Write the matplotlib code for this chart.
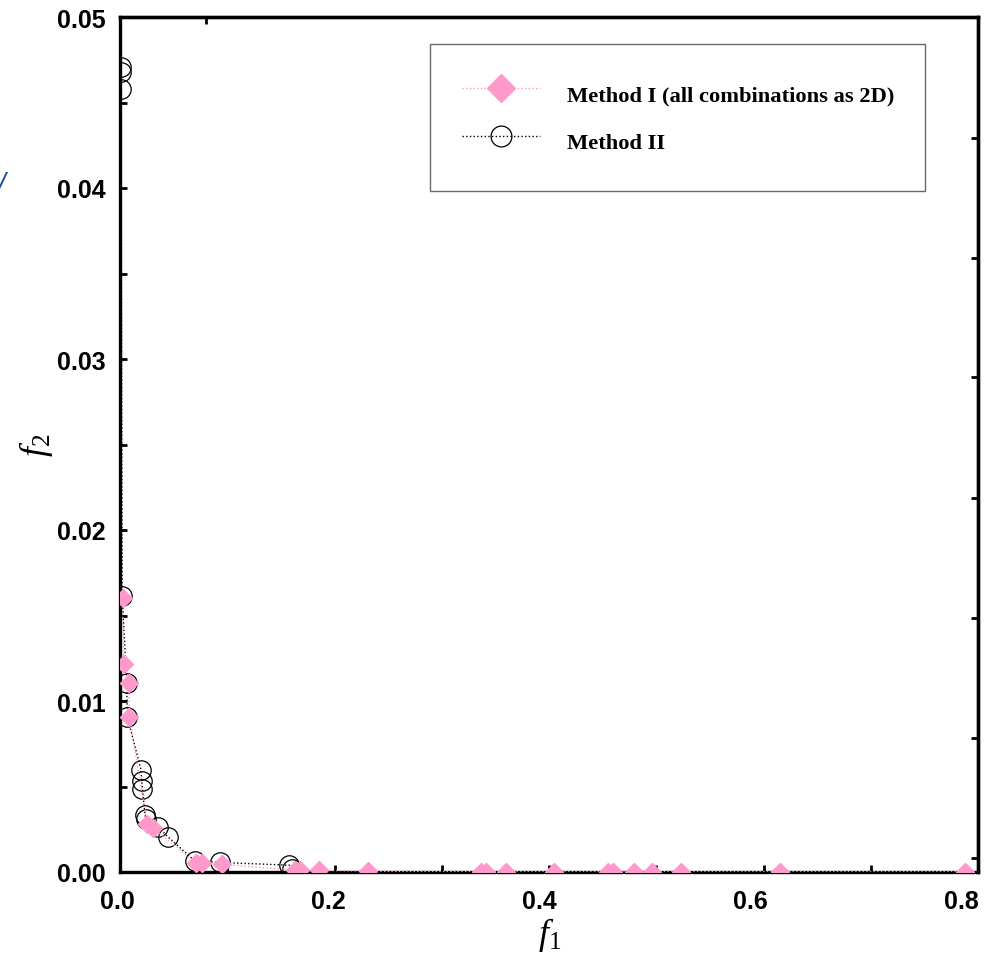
import matplotlib
matplotlib.use("Agg")
import matplotlib.pyplot as plt
from matplotlib.lines import Line2D
from matplotlib.ticker import MultipleLocator
import matplotlib.transforms as mtransforms

# Method I (all combinations as 2D)
m1_f1 = [0.0025, 0.0034, 0.0084, 0.0087, 0.0255, 0.0311, 0.0710, 0.0763, 0.0950,
         0.1636, 0.1682, 0.186, 0.231, 0.3364, 0.341, 0.360, 0.4044, 0.4548,
         0.4601, 0.4788, 0.4963, 0.5234, 0.6153, 0.7882]
m1_f2 = [0.0160, 0.01216, 0.01103, 0.00908, 0.00281, 0.00255, 0.00053, 0.00053, 0.00045,
         0.00010, 0.00010, 0.00010, 0.00005, 0.00001, 0.00001, 0.00001, 0.00001, 0.00001,
         0.00001, 0.00001, 0.00001, 0.00001, 0.00001, 0.00001]

# Method II
m2_f1 = [0.001, 0.001, 0.001, 0.002, 0.0063, 0.0068, 0.0196, 0.0202, 0.0209, 0.0234,
         0.0243, 0.0358, 0.0446, 0.0695, 0.0928, 0.158, 0.160]
m2_f2 = [0.0471, 0.0468, 0.0458, 0.01616, 0.01103, 0.00908, 0.00598, 0.00534, 0.00485,
         0.00333, 0.00310, 0.00261, 0.00206, 0.00066, 0.00056, 0.00040, 0.00020]

x_ticks = [0.0, 0.2, 0.4, 0.6, 0.8]
x_ticklabels = ["0.0", "0.2", "0.4", "0.6", "0.8"]
y_ticks = [0.00, 0.01, 0.02, 0.03, 0.04, 0.05]
y_ticklabels = ["0.00", "0.01", "0.02", "0.03", "0.04", "0.05"]

label_m1 = "Method I (all combinations as 2D)"
label_m2 = "Method II"

pink = "#ff99cc"

plt.rcParams["mathtext.fontset"] = "custom"
plt.rcParams["mathtext.it"] = "Liberation Serif:italic"
plt.rcParams["mathtext.rm"] = "Liberation Serif"

fig = plt.figure(figsize=(10.07, 9.54), dpi=100)
ax = fig.add_axes([120 / 1007, 1 - 873 / 954, 858 / 1007, 855 / 954])

ax.plot(m1_f1, m1_f2, linestyle=":", linewidth=1.0, color=pink, marker="D",
        markersize=9, markerfacecolor=pink, markeredgecolor=pink, zorder=3)
ax.plot(m2_f1, m2_f2, linestyle=":", linewidth=1.0, color="black", marker="o",
        markersize=14, markerfacecolor="none", markeredgecolor="black",
        markeredgewidth=0.9, zorder=2)

ax.set_xlim(0, 0.8)
ax.set_ylim(0, 0.05)
ax.set_xticks(x_ticks)
ax.set_xticklabels(x_ticklabels)
ax.set_yticks(y_ticks)
ax.set_yticklabels(y_ticklabels)
ax.xaxis.set_minor_locator(MultipleLocator(0.1))
ax.yaxis.set_minor_locator(MultipleLocator(0.005))

for s in ax.spines.values():
    s.set_linewidth(2.4)

ax.tick_params(which="both", direction="in", length=5, width=2,
               top=False, right=False)
ax.tick_params(axis="x", which="major", pad=12)
ax.tick_params(axis="y", which="major", pad=10)
for lab in ax.get_xticklabels() + ax.get_yticklabels():
    lab.set_fontfamily("Liberation Sans")
    lab.set_fontweight("bold")
    lab.set_fontsize(18)

# reference tick labels drift slightly left of their ticks
for lab, v in zip(ax.get_xticklabels(), x_ticks):
    off = mtransforms.ScaledTranslation(-(3 + 14 * v / 0.8) / 100, 0, fig.dpi_scale_trans)
    lab.set_transform(lab.get_transform() + off)

# right / top ticks (different spacing in the reference)
axr = ax.twinx()
axr.set_ylim(0, 1)
axr.set_yticks([0.016, 0.157, 0.297, 0.437, 0.579, 0.718, 0.858])
axr.tick_params(direction="in", length=5, width=2, labelright=False)
axr.spines["right"].set_linewidth(2.4)
for k in ("left", "top", "bottom"):
    axr.spines[k].set_visible(False)
axt = ax.twiny()
axt.set_xlim(0, 1)
axt.set_xticks([86 / 858])
axt.tick_params(direction="in", length=5, width=2, labeltop=False)
axt.spines["top"].set_linewidth(2.4)
for k in ("left", "right", "bottom"):
    axt.spines[k].set_visible(False)

fig.text(550 / 1007, 1 - 935 / 954, r"$\mathit{f_1}$", fontsize=26, ha="center", va="center")
fig.text(36 / 1007, 1 - 445 / 954, r"$\mathit{f_2}$", fontsize=26, ha="center", va="center",
         rotation=90)

# stray blue fragment at left edge of the reference
fig.text(-2 / 1007, 1 - 185 / 954, "/", color="#1f4e9a", fontsize=20, fontstyle="italic",
         fontfamily="Liberation Sans", ha="left", va="center")

handles = [
    Line2D([], [], linestyle=":", linewidth=1.0, color=pink, marker="D",
           markersize=14, markerfacecolor=pink, markeredgecolor=pink),
    Line2D([], [], linestyle=":", linewidth=1.0, color="black", marker="o",
           markersize=15, markerfacecolor="none", markeredgecolor="black",
           markeredgewidth=0.9),
]
leg = ax.legend(handles, [label_m1, label_m2],
                loc="upper left", bbox_to_anchor=(310 / 858, 1 - 27 / 855),
                prop={"family": "Liberation Serif", "weight": "bold", "size": 16.2},
                frameon=True, fancybox=False, handlelength=3.5, handletextpad=1.17,
                handleheight=2.1, labelspacing=0.5, borderpad=1.4, borderaxespad=0)
leg.get_frame().set_edgecolor("#444444")
leg.get_frame().set_linewidth(1.0)
leg.set_zorder(10)

fig.savefig("out.png", dpi=100)
